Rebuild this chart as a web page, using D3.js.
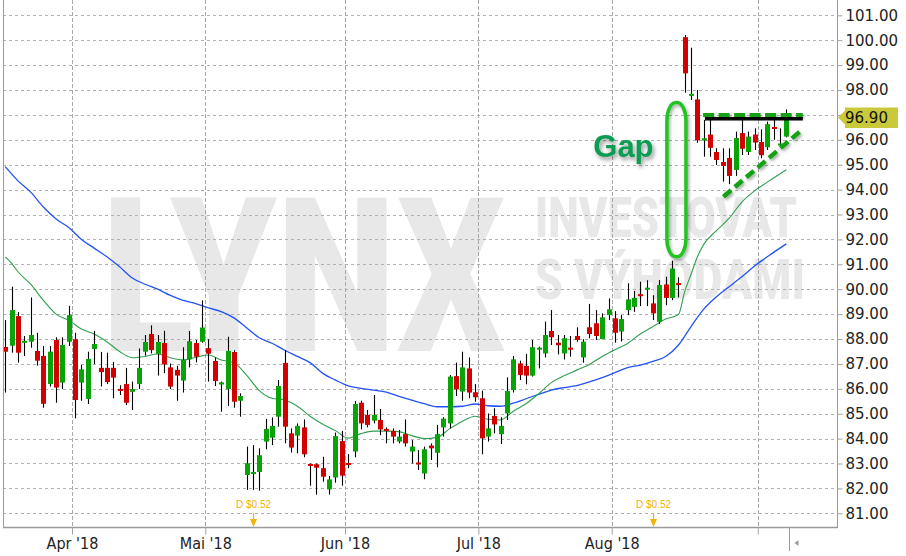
<!DOCTYPE html>
<html><head><meta charset="utf-8">
<script src="https://cdn.jsdelivr.net/npm/d3@7"></script>
<style>body{margin:0;background:#fff;}svg{display:block;}</style>
</head><body>
<svg id="c" width="906" height="556"></svg>
<script>
// ---------- DATA ----------
const dates = [
"2018-03-15","2018-03-16","2018-03-19","2018-03-20","2018-03-21","2018-03-22","2018-03-23","2018-03-26","2018-03-27","2018-03-28","2018-03-29",
"2018-04-02","2018-04-03","2018-04-04","2018-04-05","2018-04-06","2018-04-09","2018-04-10","2018-04-11","2018-04-12","2018-04-13","2018-04-16","2018-04-17","2018-04-18","2018-04-19","2018-04-20","2018-04-23","2018-04-24","2018-04-25","2018-04-26","2018-04-27","2018-04-30",
"2018-05-01","2018-05-02","2018-05-03","2018-05-04","2018-05-07","2018-05-08","2018-05-09","2018-05-10","2018-05-11","2018-05-14","2018-05-15","2018-05-16","2018-05-17","2018-05-18","2018-05-21","2018-05-22","2018-05-23","2018-05-24","2018-05-25","2018-05-29","2018-05-30","2018-05-31",
"2018-06-01","2018-06-04","2018-06-05","2018-06-06","2018-06-07","2018-06-08","2018-06-11","2018-06-12","2018-06-13","2018-06-14","2018-06-15","2018-06-18","2018-06-19","2018-06-20","2018-06-21","2018-06-22","2018-06-25","2018-06-26","2018-06-27","2018-06-28","2018-06-29",
"2018-07-02","2018-07-03","2018-07-05","2018-07-06","2018-07-09","2018-07-10","2018-07-11","2018-07-12","2018-07-13","2018-07-16","2018-07-17","2018-07-18","2018-07-19","2018-07-20","2018-07-23","2018-07-24","2018-07-25","2018-07-26","2018-07-27","2018-07-30","2018-07-31",
"2018-08-01","2018-08-02","2018-08-03","2018-08-06","2018-08-07","2018-08-08","2018-08-09","2018-08-10","2018-08-13","2018-08-14","2018-08-15","2018-08-16","2018-08-17","2018-08-20","2018-08-21","2018-08-22","2018-08-23","2018-08-24","2018-08-27","2018-08-28","2018-08-29","2018-08-30","2018-08-31",
"2018-09-04","2018-09-05","2018-09-06","2018-09-07","2018-09-10"];

const open = [
87.68,87.73,88.92,87.85,87.89,87.52,87.32,86.19,87.96,86.25,87.89,
87.99,86.25,85.59,87.60,86.84,86.84,86.84,85.99,86.19,85.88,86.19,87.49,88.20,87.40,87.84,86.86,86.76,86.33,87.18,87.84,87.89,
87.63,87.12,86.18,85.99,87.48,85.52,82.54,82.58,82.66,83.88,84.04,84.88,87.04,84.21,84.12,84.45,82.97,82.97,82.81,81.96,82.44,83.90,
83.01,83.48,85.44,84.95,84.72,84.75,84.39,84.31,83.88,84.18,83.48,83.03,82.60,83.72,83.43,84.45,84.61,86.51,85.89,86.82,85.86,
85.62,84.08,84.91,84.18,85.01,85.95,87.02,86.92,86.53,87.58,87.42,88.32,87.85,87.42,87.64,88.12,87.26,88.47,88.63,88.00,88.96,
88.83,88.30,89.16,89.29,89.80,89.99,89.43,88.69,90.19,89.65,90.24,100.12,97.77,97.62,95.97,96.21,95.51,95.11,95.27,94.79,96.27,95.51,96.21,
95.91,95.70,96.50,95.79,96.13];

const high = [
88.76,90.10,89.08,88.12,89.67,88.25,87.72,87.72,88.07,88.07,89.33,
88.25,86.96,87.49,88.32,87.48,87.45,87.08,86.14,86.84,86.29,87.62,88.16,88.55,88.16,88.33,87.02,86.92,87.67,88.32,87.96,89.55,
87.99,87.26,86.29,88.09,87.55,85.82,83.68,83.74,83.61,84.79,84.85,86.35,87.56,84.41,84.61,84.77,83.00,83.00,83.27,82.50,84.24,84.31,
83.38,85.51,85.52,85.15,85.75,85.19,84.45,84.41,84.35,84.77,83.94,83.54,83.68,83.81,84.55,84.86,86.55,87.05,87.49,87.26,86.19,
85.93,85.01,85.22,84.86,86.46,87.32,87.13,87.40,87.96,87.69,88.70,89.16,88.16,88.16,88.12,88.47,87.99,89.41,89.16,89.03,89.63,
89.12,88.96,90.24,89.93,90.30,90.36,89.76,90.37,90.50,91.14,90.48,100.21,99.70,98.00,96.80,96.80,95.66,95.66,95.66,96.33,96.80,96.33,96.46,
96.42,96.73,96.80,96.46,97.22];

const low = [
85.85,87.45,87.05,87.32,87.65,86.93,85.24,86.09,85.44,85.99,87.72,
84.81,85.52,85.39,86.99,86.09,86.19,85.62,85.75,85.35,85.15,85.99,87.33,87.42,86.53,86.63,85.99,85.52,85.85,86.86,87.06,87.85,
86.29,86.11,85.08,85.31,85.24,84.88,81.94,81.94,81.91,83.57,83.74,84.48,83.81,83.44,83.41,83.25,82.11,81.75,82.27,81.75,82.23,82.11,
82.81,83.25,84.37,84.45,84.61,84.14,83.81,83.81,83.81,83.68,83.00,82.74,82.37,83.14,82.85,84.08,84.41,85.71,85.52,85.62,85.48,
83.37,83.88,84.21,83.78,84.75,85.85,86.35,86.18,86.49,86.82,87.26,87.76,87.38,87.18,87.29,87.89,87.05,88.03,87.96,87.99,88.76,
87.85,87.90,88.96,89.09,89.32,89.32,88.76,88.60,89.36,89.56,89.67,97.89,97.60,95.88,95.32,95.32,94.99,94.32,94.22,94.55,95.39,95.39,95.59,
95.26,95.59,96.00,95.72,96.10];

const close = [
87.49,89.16,87.45,87.92,88.16,87.13,85.40,87.49,86.05,87.76,88.96,
85.55,86.78,87.20,87.80,86.67,86.27,86.45,85.92,85.44,85.99,86.84,87.88,87.56,87.88,86.98,86.09,86.53,87.16,87.91,87.29,88.46,
87.41,86.31,86.25,87.52,85.48,85.71,83.01,82.66,83.33,84.39,84.51,86.11,84.48,83.64,84.51,83.37,82.91,82.83,82.47,82.36,84.10,82.51,
82.95,85.39,84.61,84.55,84.95,84.37,84.31,84.08,84.08,83.81,83.68,82.97,83.57,83.61,84.18,84.80,86.49,85.98,86.86,85.85,85.66,
84.01,84.41,84.57,84.51,85.91,87.18,86.55,86.53,87.67,87.64,88.16,88.07,87.75,88.03,87.58,87.96,87.89,88.20,88.12,88.87,89.19,
88.25,88.80,89.59,89.65,89.72,90.05,89.03,90.17,89.65,90.83,90.17,98.67,97.84,95.98,96.06,95.68,95.19,94.95,94.55,96.07,95.64,96.13,95.89,
95.38,96.63,96.45,95.83,96.90];

// moving averages: [date, value]
const maFast = [
["2018-03-15",91.30],["2018-03-16",91.04],["2018-03-19",90.70],["2018-03-21",90.20],["2018-03-23",89.55],["2018-03-27",89.00],["2018-03-29",88.75],
["2018-04-03",88.40],["2018-04-05",88.20],["2018-04-09",87.89],["2018-04-11",87.50],["2018-04-13",87.25],["2018-04-17",87.30],["2018-04-19",87.40],
["2018-04-23",87.25],["2018-04-25",87.16],["2018-04-27",87.27],["2018-05-01",87.36],["2018-05-03",87.16],["2018-05-07",87.05],["2018-05-09",86.55],
["2018-05-11",85.93],["2018-05-15",85.62],["2018-05-17",85.55],["2018-05-21",85.30],["2018-05-23",84.90],["2018-05-25",84.58],["2018-05-30",84.32],
["2018-06-01",84.02],["2018-06-05",84.20],["2018-06-07",84.30],["2018-06-11",84.30],["2018-06-13",84.28],["2018-06-15",84.12],["2018-06-19",84.00],
["2018-06-21",84.05],["2018-06-25",84.40],["2018-06-27",84.70],["2018-06-29",84.90],["2018-07-03",84.78],["2018-07-06",84.75],["2018-07-10",85.10],
["2018-07-12",85.40],["2018-07-16",85.80],["2018-07-18",86.25],["2018-07-20",86.52],["2018-07-24",86.75],["2018-07-26",86.98],["2018-07-30",87.30],
["2018-08-01",87.57],["2018-08-03",87.82],["2018-08-07",88.20],["2018-08-09",88.50],["2018-08-13",88.80],["2018-08-15",88.98],["2018-08-16",89.90],
["2018-08-17",90.60],["2018-08-20",91.30],["2018-08-21",91.80],["2018-08-23",92.35],["2018-08-27",92.85],["2018-08-29",93.50],["2018-08-31",93.95],
["2018-09-05",94.30],["2018-09-10",94.80]];

const maSlow = [
["2018-03-15",94.92],["2018-03-19",94.35],["2018-03-21",93.90],["2018-03-23",93.30],["2018-03-27",92.82],["2018-03-29",92.48],
["2018-04-03",92.00],["2018-04-05",91.65],["2018-04-09",91.30],["2018-04-11",90.90],["2018-04-13",90.45],["2018-04-17",90.20],["2018-04-19",90.00],
["2018-04-23",89.75],["2018-04-25",89.55],["2018-04-27",89.42],["2018-05-01",89.25],["2018-05-03",89.10],["2018-05-07",88.85],["2018-05-09",88.45],
["2018-05-11",88.05],["2018-05-15",87.83],["2018-05-17",87.55],["2018-05-21",87.30],["2018-05-23",87.05],["2018-05-25",86.62],["2018-05-30",86.35],
["2018-06-01",86.12],["2018-06-05",86.02],["2018-06-07",85.95],["2018-06-11",85.87],["2018-06-13",85.70],["2018-06-15",85.55],["2018-06-19",85.40],
["2018-06-21",85.28],["2018-06-25",85.28],["2018-06-27",85.30],["2018-06-29",85.39],["2018-07-03",85.32],["2018-07-06",85.30],["2018-07-10",85.42],
["2018-07-12",85.60],["2018-07-16",85.78],["2018-07-18",85.95],["2018-07-20",86.05],["2018-07-24",86.13],["2018-07-26",86.28],["2018-07-30",86.45],
["2018-08-01",86.65],["2018-08-03",86.85],["2018-08-07",86.95],["2018-08-09",87.10],["2018-08-13",87.30],["2018-08-15",87.75],["2018-08-17",88.50],
["2018-08-21",89.20],["2018-08-23",89.70],["2018-08-27",90.10],["2018-08-29",90.50],["2018-08-31",90.93],["2018-09-05",91.30],["2018-09-10",91.82]];

const yTicks = [81,82,83,84,85,86,87,88,89,90,91,92,93,94,95,96,97,98,99,100,101];
const monthTickDates = ["2018-04-02","2018-05-01","2018-06-01","2018-07-02","2018-08-01","2018-09-04"];
const monthTickLabels = ["Apr '18","Mai '18","Jun '18","Jul '18","Aug '18",""];
const dividendDates = ["2018-05-10","2018-08-09"];
const dividendLabels = ["D $0.52","D $0.52"];

// annotations in data units (trading-day index, price)
const gapText = "Gap";
const gapTextPos = [92.6, 95.32];
const gapZone = [104.2, 107.2, 97.5, 91.3];        // i0, i1, top price, bottom price
const resistanceLine = [[110.2, 96.85], [125.6, 96.85]];
const topDashLine = [[109.9, 97.0], [125.6, 97.0]];
const trendLine = [[113.1, 93.71], [125.4, 96.39]];
const watermark = ["LYNX", "INVESTOVAT", "S VÝHODAMI"];

// ---------- LAYOUT ----------
const plot = {left: 3, right: 837, top: 0, bottom: 527};
const svg = d3.select("#c");
const x = d3.scaleLinear().domain([0, dates.length - 1]).range([5.3, 786.3]);
const y = d3.scaleLinear().domain([81, 101]).range([513.3, 15.3]);
const idx = d => dates.indexOf(d);
const step = x(1) - x(0);

const defs = svg.append("defs");
defs.append("clipPath").attr("id","clip").append("rect")
  .attr("x",plot.left).attr("y",plot.top).attr("width",plot.right-plot.left).attr("height",plot.bottom-plot.top);
function shadow(id, dx, dy, sd, op){
  const f = defs.append("filter").attr("id",id).attr("filterUnits","userSpaceOnUse")
    .attr("x",0).attr("y",0).attr("width",906).attr("height",556);
  f.append("feDropShadow").attr("dx",dx).attr("dy",dy).attr("stdDeviation",sd)
    .attr("flood-color","#000").attr("flood-opacity",op);
}
shadow("sh", 1.5, 2, 1.4, 0.35);
shadow("shT", 2, 3, 2, 0.4);

svg.append("rect").attr("width",906).attr("height",556).attr("fill","#fff");

// watermark (horizontally condensed by a scale transform)
const wm = svg.append("g").attr("fill","#e8e8e8")
  .attr("font-family","Roboto, 'DejaVu Sans', sans-serif").attr("font-weight",900);
function wmText(str, x0, base, size, width){
  const t = wm.append("text").attr("font-size",size).text(str);
  const w = t.node().getComputedTextLength() || width;
  t.attr("transform",`translate(${x0},${base}) scale(${width/w},1)`);
}
wmText(watermark[0], 102, 351, 215, 403);
wmText(watermark[1], 535, 237, 55, 262);
wmText(watermark[2], 535, 299, 56, 270);

// gridlines
const grid = svg.append("g");
grid.selectAll("line.h").data(yTicks).join("line")
  .attr("x1",plot.left).attr("x2",plot.right)
  .attr("y1",d=>Math.round(y(d))+0.5).attr("y2",d=>Math.round(y(d))+0.5)
  .attr("stroke","#b0b0b0").attr("stroke-dasharray","3,3");
const monthIdx = monthTickDates.map(idx);
grid.selectAll("line.v").data(monthIdx).join("line")
  .attr("x1",d=>Math.round(x(d-0.5))+0.5).attr("x2",d=>Math.round(x(d-0.5))+0.5)
  .attr("y1",plot.top).attr("y2",plot.bottom)
  .attr("stroke","#a8a8a8").attr("stroke-dasharray","4,2");

const clipped = svg.append("g").attr("clip-path","url(#clip)");

// moving averages
const line = d3.line().x(d=>x(idx(d[0]))).y(d=>y(d[1])).curve(d3.curveMonotoneX);
clipped.append("path").datum(maSlow).attr("d",line).attr("fill","none").attr("stroke","#2352f5").attr("stroke-width",1.3);
clipped.append("path").datum(maFast).attr("d",line).attr("fill","none").attr("stroke","#2fa04f").attr("stroke-width",1.1);

// candles
const candles = dates.map((d,i)=>({d, i, o:open[i], h:high[i], l:low[i], c:close[i]}));
const cg = clipped.append("g");
cg.selectAll("line.wick").data(candles).join("line")
  .attr("x1",d=>Math.round(x(d.i))+0.5).attr("x2",d=>Math.round(x(d.i))+0.5)
  .attr("y1",d=>y(d.h)).attr("y2",d=>y(d.l))
  .attr("stroke","#000").attr("stroke-width",1.1);
cg.selectAll("rect.body").data(candles).join("rect")
  .attr("x",d=>Math.round(x(d.i))-2).attr("width",5)
  .attr("y",d=>{const t=y(Math.max(d.o,d.c)), b=y(Math.min(d.o,d.c)); return (b-t<2)?(t+b)/2-1:t;})
  .attr("height",d=>Math.max(2, y(Math.min(d.o,d.c))-y(Math.max(d.o,d.c))))
  .attr("fill",d=>d.c>=d.o?"#07a307":"#d20000");

// annotations
const ann = svg.append("g");
ann.append("rect")
  .attr("x",x(gapZone[0])).attr("y",y(gapZone[2]))
  .attr("width",x(gapZone[1])-x(gapZone[0])).attr("height",y(gapZone[3])-y(gapZone[2]))
  .attr("rx",9).attr("ry",18)
  .attr("fill","none").attr("stroke","#22c322").attr("stroke-width",3.5).attr("filter","url(#sh)");
ann.append("text").attr("x",x(gapTextPos[0])).attr("y",y(gapTextPos[1]))
  .attr("font-family","'Liberation Sans', Arial, sans-serif").attr("font-weight","bold").attr("font-size",31)
  .attr("fill","#0c9c52").attr("filter","url(#shT)").text(gapText);
const lp = d3.line().x(d=>x(d[0])).y(d=>y(d[1]));
ann.append("path").datum(resistanceLine).attr("d",lp).attr("stroke","#000").attr("stroke-width",3.5).attr("fill","none");
ann.append("path").datum(topDashLine).attr("d",lp).attr("stroke","#12a012").attr("stroke-width",4)
  .attr("stroke-dasharray","11,4.5").attr("fill","none").attr("filter","url(#sh)");
ann.append("path").datum(trendLine).attr("d",lp).attr("stroke","#12a012").attr("stroke-width",4.5)
  .attr("stroke-dasharray","10,5").attr("fill","none").attr("filter","url(#sh)");

// borders
const bd = svg.append("g").attr("stroke","#9a9a9a").attr("fill","none");
bd.append("line").attr("x1",plot.left+0.5).attr("x2",plot.left+0.5).attr("y1",plot.top).attr("y2",plot.bottom);
bd.append("line").attr("x1",plot.right+0.5).attr("x2",plot.right+0.5).attr("y1",plot.top).attr("y2",plot.bottom);
bd.append("line").attr("x1",plot.left).attr("x2",plot.right+1).attr("y1",plot.bottom+0.5).attr("y2",plot.bottom+0.5).attr("stroke-width",1.6);

// last price (used to hide the tick label the price box covers)
const last = close[close.length-1];
const ly = y(last);

// y axis
const ya = svg.append("g").attr("transform",`translate(${plot.right+0.5},0)`)
  .call(d3.axisRight(y).tickValues(yTicks).tickFormat(d3.format(".2f")).tickSize(5).tickPadding(3));
ya.select(".domain").remove();
ya.selectAll(".tick line").attr("stroke","#a0a0a0");
ya.selectAll(".tick text").attr("font-family","'DejaVu Sans', Verdana, sans-serif").attr("font-size",15).attr("fill","#222");
ya.selectAll(".tick").filter(d=>Math.abs(y(d)-ly)<12).select("text").remove();

// x axis
const xa = svg.append("g").attr("transform",`translate(0,${plot.bottom+0.5})`)
  .call(d3.axisBottom(x).tickValues(monthIdx.map(i=>i-0.5)).tickFormat((d,k)=>monthTickLabels[k]).tickSize(7).tickPadding(3));
xa.select(".domain").remove();
xa.selectAll(".tick line").attr("stroke","#a0a0a0");
xa.selectAll(".tick text").attr("font-family","'DejaVu Sans Condensed', 'Liberation Sans', sans-serif").attr("font-size",16).attr("fill","#222");

// dividend markers
const dv = svg.append("g");
dividendDates.forEach((d,k)=>{
  const cx = Math.round(x(idx(d)))+0.5;
  dv.append("text").attr("x",cx).attr("y",508).attr("text-anchor","middle")
    .attr("font-family","'Liberation Sans', Arial, sans-serif").attr("font-size",10).attr("fill","#f2b400").text(dividendLabels[k]);
  dv.append("line").attr("x1",cx).attr("x2",cx).attr("y1",513).attr("y2",521).attr("stroke","#f2b400").attr("stroke-width",1.2);
  dv.append("path").attr("d",`M${cx-3.5},${519}L${cx+3.5},${519}L${cx},${527}Z`).attr("fill","#f2b400");
});

// last price label
const pl = svg.append("g");
pl.append("path").attr("d",`M${plot.right+1},${ly}L${plot.right+8},${ly-7}L${plot.right+8},${ly-10}L${plot.right+61},${ly-10}L${plot.right+61},${ly+10.5}L${plot.right+8},${ly+10.5}L${plot.right+8},${ly+7}Z`)
  .attr("fill","#c9c93a");
pl.append("text").attr("x",plot.right+8).attr("y",ly).attr("dy","0.36em")
  .attr("font-family","'DejaVu Sans', Verdana, sans-serif").attr("font-size",15).attr("fill","#111").text(d3.format(".2f")(last));

// "now" marker
const nx = Math.round(x(dates.length-1)+step/2)+0.5;
svg.append("line").attr("x1",nx).attr("x2",nx).attr("y1",plot.bottom+1).attr("y2",551).attr("stroke","#999");
svg.append("path").attr("d",`M${nx+5},${543}L${nx+9},${540}L${nx+9},${546}Z`).attr("fill","#999");
</script>
</body></html>
